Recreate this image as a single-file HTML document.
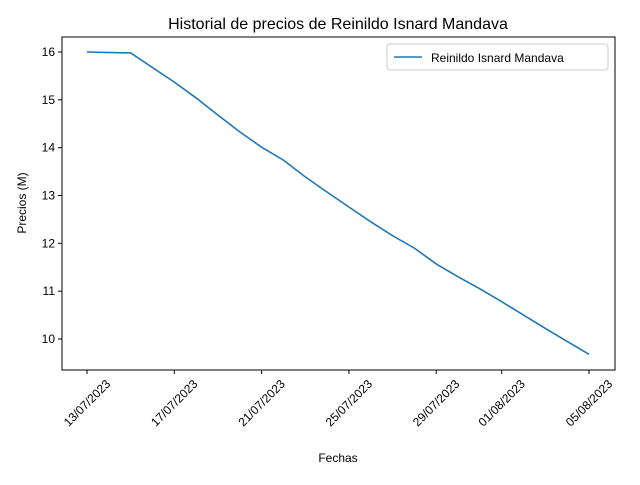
<!DOCTYPE html>
<html><head><meta charset="utf-8"><style>
body{margin:0;background:#fff;font-family:"Liberation Sans","DejaVu Sans",sans-serif;}
</style></head><body>
<svg id="c" width="640" height="480" xmlns="http://www.w3.org/2000/svg">
<text x="338" y="29" text-anchor="middle" font-size="16">Historial de precios de Reinildo Isnard Mandava</text>
<rect x="62" y="37" width="553" height="333" fill="none" stroke="#000" stroke-width="1"/>
<g id="yt"></g><g id="xt"></g>
<polyline id="line" fill="none" stroke="#1f77b4" stroke-width="1.6"/>
<text x="338" y="462" text-anchor="middle" font-size="12">Fechas</text>
<text transform="translate(26,203) rotate(-90)" text-anchor="middle" font-size="12">Precios (M)</text>
<g>
<rect x="387" y="44" width="221" height="26" rx="3" fill="#fff" stroke="#ccc"/>
<line x1="394" y1="57" x2="422" y2="57" stroke="#1f77b4" stroke-width="1.6"/>
<text x="431" y="62" font-size="12">Reinildo Isnard Mandava</text>
</g>
</svg>
<script>
const days=[0,2,4,5,6,7,8,9,10,11,12,13,14,15,16,17,18,19,20,21,22,23];
const prices=[16.00,15.98,15.37,15.04,14.68,14.33,14.01,13.74,13.39,13.07,12.76,12.45,12.16,11.9,11.57,11.3,11.05,10.78,10.5,10.22,9.95,9.68];
const yTicks=[10,11,12,13,14,15,16];
const xTickDays=[0,4,8,12,16,19,23];
const xTickLabels=["13/07/2023","17/07/2023","21/07/2023","25/07/2023","29/07/2023","01/08/2023","05/08/2023"];
const NS="http://www.w3.org/2000/svg";
function X(d){return 87+d*(589-87)/23;}
function Y(v){return 52+(16-v)*(339-52)/6;}
document.getElementById('line').setAttribute('points',days.map((d,i)=>X(d)+','+Y(prices[i])).join(' '));
const yt=document.getElementById('yt');
yTicks.forEach(v=>{
 const l=document.createElementNS(NS,'line');
 l.setAttribute('x1',58);l.setAttribute('x2',62);l.setAttribute('y1',Y(v));l.setAttribute('y2',Y(v));l.setAttribute('stroke','#000');
 
 
 yt.appendChild(l);
 const t=document.createElementNS(NS,'text');
 t.setAttribute('x',55);t.setAttribute('y',Y(v)+4);t.setAttribute('text-anchor','end');t.setAttribute('font-size','12');
 t.textContent=v;
 
 
 yt.appendChild(t);
});
const xt=document.getElementById('xt');
xTickDays.forEach((d,i)=>{
 const x=X(d);
 const l=document.createElementNS(NS,'line');
 l.setAttribute('x1',x);l.setAttribute('x2',x);l.setAttribute('y1',370);l.setAttribute('y2',374);l.setAttribute('stroke','#000');
 
 
 xt.appendChild(l);
 const t=document.createElementNS(NS,'text');
 t.setAttribute('transform','translate('+x+',403) rotate(-45)');
 t.setAttribute('x',0);t.setAttribute('y',4);
 t.setAttribute('text-anchor','middle');t.setAttribute('font-size','12');
 t.textContent=xTickLabels[i];
 
 
 xt.appendChild(t);
});
</script>
</body></html>
